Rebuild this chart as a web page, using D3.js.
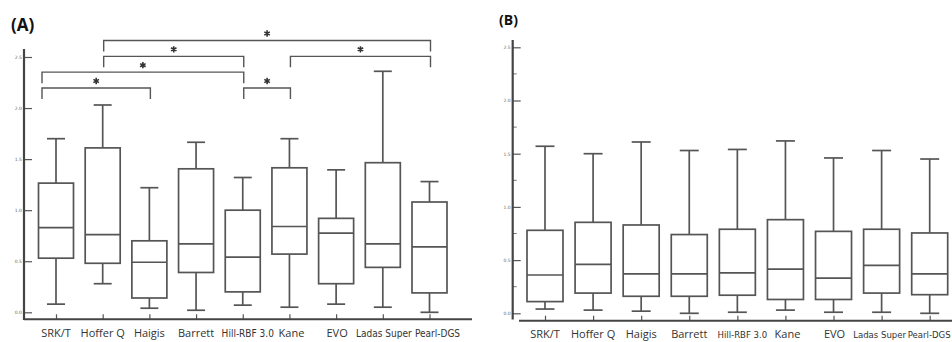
<!DOCTYPE html>
<html>
<head>
<meta charset="utf-8">
<script src="https://cdn.jsdelivr.net/npm/d3@7"></script>
<style>
  body { margin: 0; background: #fff; }
  svg { display: block; }
</style>
</head>
<body>
<div id="chart"></div>
<script>
// formula names, same order in both panels
var formulas = ["SRK/T", "Hoffer Q", "Haigis", "Barrett", "Hill-RBF 3.0", "Kane", "EVO", "Ladas Super", "Pearl-DGS"];

// panel A box stats
var lowA = [0.08, 0.28, 0.04, 0.02, 0.07, 0.05, 0.08, 0.05, 0.00];
var q1A  = [0.53, 0.48, 0.14, 0.39, 0.20, 0.57, 0.28, 0.44, 0.19];
var medA = [0.83, 0.76, 0.49, 0.67, 0.54, 0.84, 0.775, 0.67, 0.64];
var q3A  = [1.265, 1.61, 0.70, 1.405, 1.00, 1.415, 0.92, 1.465, 1.08];
var highA = [1.70, 2.03, 1.22, 1.665, 1.32, 1.70, 1.395, 2.36, 1.28];

// panel B box stats
var lowB = [0.04, 0.03, 0.02, 0.00, 0.01, 0.03, 0.01, 0.01, 0.00];
var q1B  = [0.11, 0.19, 0.16, 0.16, 0.17, 0.13, 0.13, 0.19, 0.175];
var medB = [0.36, 0.46, 0.37, 0.37, 0.38, 0.415, 0.33, 0.45, 0.37];
var q3B  = [0.78, 0.855, 0.83, 0.74, 0.79, 0.88, 0.77, 0.79, 0.755];
var highB = [1.57, 1.50, 1.61, 1.53, 1.54, 1.62, 1.46, 1.53, 1.45];

var yTicks = [0, 0.5, 1.0, 1.5, 2.0, 2.5];
var yMinorB = [0.25, 0.75, 1.25, 1.75, 2.25];

// significance brackets in panel A: [from, to, row]
var sigFrom = ["Hoffer Q", "Hoffer Q", "SRK/T", "SRK/T", "Kane", "Hill-RBF 3.0"];
var sigTo   = ["Pearl-DGS", "Hill-RBF 3.0", "Hill-RBF 3.0", "Haigis", "Pearl-DGS", "Kane"];
var sigRow  = [0, 1, 2, 3, 1, 3];

// labels set in the narrower font, and small nudges so they don't collide
var smallFont = ["Hill-RBF 3.0", "Ladas Super", "Pearl-DGS"];
var labelNudge = { "Hill-RBF 3.0": 5, "Kane": 2, "EVO": 1, "Ladas Super": 1, "Pearl-DGS": 8 };

var W = 952, H = 342;
var svg = d3.select("#chart").append("svg")
    .attr("width", W)
    .attr("height", H);

function makeBoxes(arrs) {
    return formulas.map(function (f, i) {
        return { name: f, low: arrs[0][i], q1: arrs[1][i], med: arrs[2][i], q3: arrs[3][i], high: arrs[4][i] };
    });
}

function drawPanel(opt) {
    var x = d3.scalePoint().domain(formulas).range(opt.xRange);
    var y = d3.scaleLinear().domain([0, 2.5]).range(opt.yRange);
    var g = svg.append("g");

    // y axis: ticks inside, labels outside
    var yAx = g.append("g")
        .attr("transform", "translate(" + opt.axisX + ",0)")
        .call(d3.axisLeft(y).tickValues(yTicks).tickFormat(d3.format(".1f"))
            .tickSizeInner(-8).tickSizeOuter(0).tickPadding(2));
    yAx.select(".domain").remove();
    yAx.selectAll(".tick line").attr("stroke", "#555").attr("stroke-width", 1.2);
    yAx.selectAll(".tick text")
        .attr("fill", "#666")
        .style("font-family", "DejaVu Sans")
        .style("font-size", "4.5px");

    if (opt.minor) {
        g.append("g").selectAll("line")
            .data(opt.minor).enter().append("line")
            .attr("x1", opt.axisX).attr("x2", opt.axisX + 4)
            .attr("y1", function (d) { return y(d); })
            .attr("y2", function (d) { return y(d); })
            .attr("stroke", "#777").attr("stroke-width", 1);
    }

    g.append("line")
        .attr("x1", opt.axisX).attr("x2", opt.axisX)
        .attr("y1", opt.axisTop).attr("y2", opt.baseY)
        .attr("stroke", "#444").attr("stroke-width", 2.2);

    // x axis
    var xAx = g.append("g")
        .attr("transform", "translate(0," + opt.baseY2 + ")")
        .call(d3.axisBottom(x).tickFormat("").tickSizeInner(-5).tickSizeOuter(0));
    xAx.select(".domain").remove();
    xAx.selectAll(".tick line").attr("stroke", "#555").attr("stroke-width", 1.2);
    g.append("line")
        .attr("x1", opt.xAxisFrom).attr("x2", opt.xAxisTo)
        .attr("y1", opt.baseY2).attr("y2", opt.baseY2)
        .attr("stroke", "#444").attr("stroke-width", 2);

    var nudge = Object.assign({}, labelNudge, opt.nudge || {});
    g.selectAll(".xlab")
        .data(formulas).enter().append("text")
        .attr("class", "xlab")
        .attr("x", function (d) { return x(d) + (nudge[d] || 0); })
        .attr("y", opt.labelY)
        .attr("text-anchor", "middle")
        .attr("fill", "#333")
        .style("font-family", function (d) { return smallFont.includes(d) ? "DejaVu Sans Condensed, DejaVu Sans" : "Open Sans"; })
        .style("font-size", function (d) { return smallFont.includes(d) ? opt.smallSize : "11px"; })
        .text(function (d) { return d; });

    // boxes
    var boxes = makeBoxes(opt.stats);
    var bw = opt.boxW, cw = opt.capW;
    var b = g.selectAll(".box").data(boxes).enter().append("g")
        .attr("class", "box")
        .attr("stroke", "#555")
        .attr("stroke-width", 1.7)
        .attr("fill", "none");
    b.append("line")
        .attr("x1", function (d) { return x(d.name); }).attr("x2", function (d) { return x(d.name); })
        .attr("y1", function (d) { return y(d.high); }).attr("y2", function (d) { return y(d.q3); });
    b.append("line")
        .attr("x1", function (d) { return x(d.name); }).attr("x2", function (d) { return x(d.name); })
        .attr("y1", function (d) { return y(d.q1); }).attr("y2", function (d) { return y(d.low); });
    b.append("line")
        .attr("x1", function (d) { return x(d.name) - cw / 2; }).attr("x2", function (d) { return x(d.name) + cw / 2; })
        .attr("y1", function (d) { return y(d.high); }).attr("y2", function (d) { return y(d.high); });
    b.append("line")
        .attr("x1", function (d) { return x(d.name) - cw / 2; }).attr("x2", function (d) { return x(d.name) + cw / 2; })
        .attr("y1", function (d) { return y(d.low); }).attr("y2", function (d) { return y(d.low); });
    b.append("rect")
        .attr("x", function (d) { return x(d.name) - bw / 2; })
        .attr("width", bw)
        .attr("y", function (d) { return y(d.q3); })
        .attr("height", function (d) { return y(d.q1) - y(d.q3); })
        .attr("fill", "#fff");
    b.append("line")
        .attr("x1", function (d) { return x(d.name) - bw / 2; }).attr("x2", function (d) { return x(d.name) + bw / 2; })
        .attr("y1", function (d) { return y(d.med); }).attr("y2", function (d) { return y(d.med); });

    g.append("text")
        .attr("x", opt.titleX).attr("y", opt.titleY)
        .attr("fill", "#111")
        .style("font-family", "Open Sans")
        .style("font-weight", "bold")
        .style("font-size", opt.titleSize)
        .text(opt.title);

    return { g: g, x: x, y: y };
}

var pA = drawPanel({
    title: "(A)", titleX: 11, titleY: 31, titleSize: "17px",
    xRange: [56, 429.5], yRange: [312.3, 57],
    axisX: 24, axisTop: 49, baseY: 320, baseY2: 319.3,
    xAxisFrom: 24, xAxisTo: 472, labelY: 336.5,
    boxW: 35, capW: 18, smallSize: "10px",
    stats: [lowA, q1A, medA, q3A, highA]
});

var pB = drawPanel({
    title: "(B)", titleX: 499, titleY: 24.5, titleSize: "14px",
    xRange: [545, 929.7], yRange: [313.3, 47.3],
    axisX: 512.7, axisTop: 40, baseY: 319.5, baseY2: 320.7,
    xAxisFrom: 519, xAxisTo: 952, labelY: 338,
    boxW: 36, capW: 19, minor: yMinorB, smallSize: "9.5px",
    nudge: { "Ladas Super": -2, "Pearl-DGS": -0.5 },   // keep Pearl-DGS inside the right edge
    stats: [lowB, q1B, medB, q3B, highB]
});

// significance brackets for panel A
var rowY = d3.scaleLinear().domain([0, 3]).range([40.5, 88]);
var legX = function (name) { return name === "SRK/T" ? pA.x(name) - 14 : pA.x(name) + 1; };
var sig = sigFrom.map(function (f, i) { return { from: f, to: sigTo[i], row: sigRow[i] }; });
var br = pA.g.selectAll(".sig").data(sig).enter().append("g").attr("class", "sig");
br.append("path")
    .attr("fill", "none")
    .attr("stroke", "#555")
    .attr("stroke-width", 1.4)
    .attr("d", function (d) {
        var yy = rowY(d.row), x1 = legX(d.from), x2 = legX(d.to);
        return "M" + x1 + "," + (yy + 11) + "V" + yy + "H" + x2 + "V" + (yy + 11);
    });
br.append("path")
    .attr("transform", function (d) {
        return "translate(" + ((legX(d.from) + legX(d.to)) / 2) + "," + (rowY(d.row) - 7) + ")";
    })
    .attr("d", d3.symbol(d3.symbolAsterisk, 28))
    .attr("fill", "none")
    .attr("stroke", "#333")
    .attr("stroke-width", 1.6);
</script>
</body>
</html>
